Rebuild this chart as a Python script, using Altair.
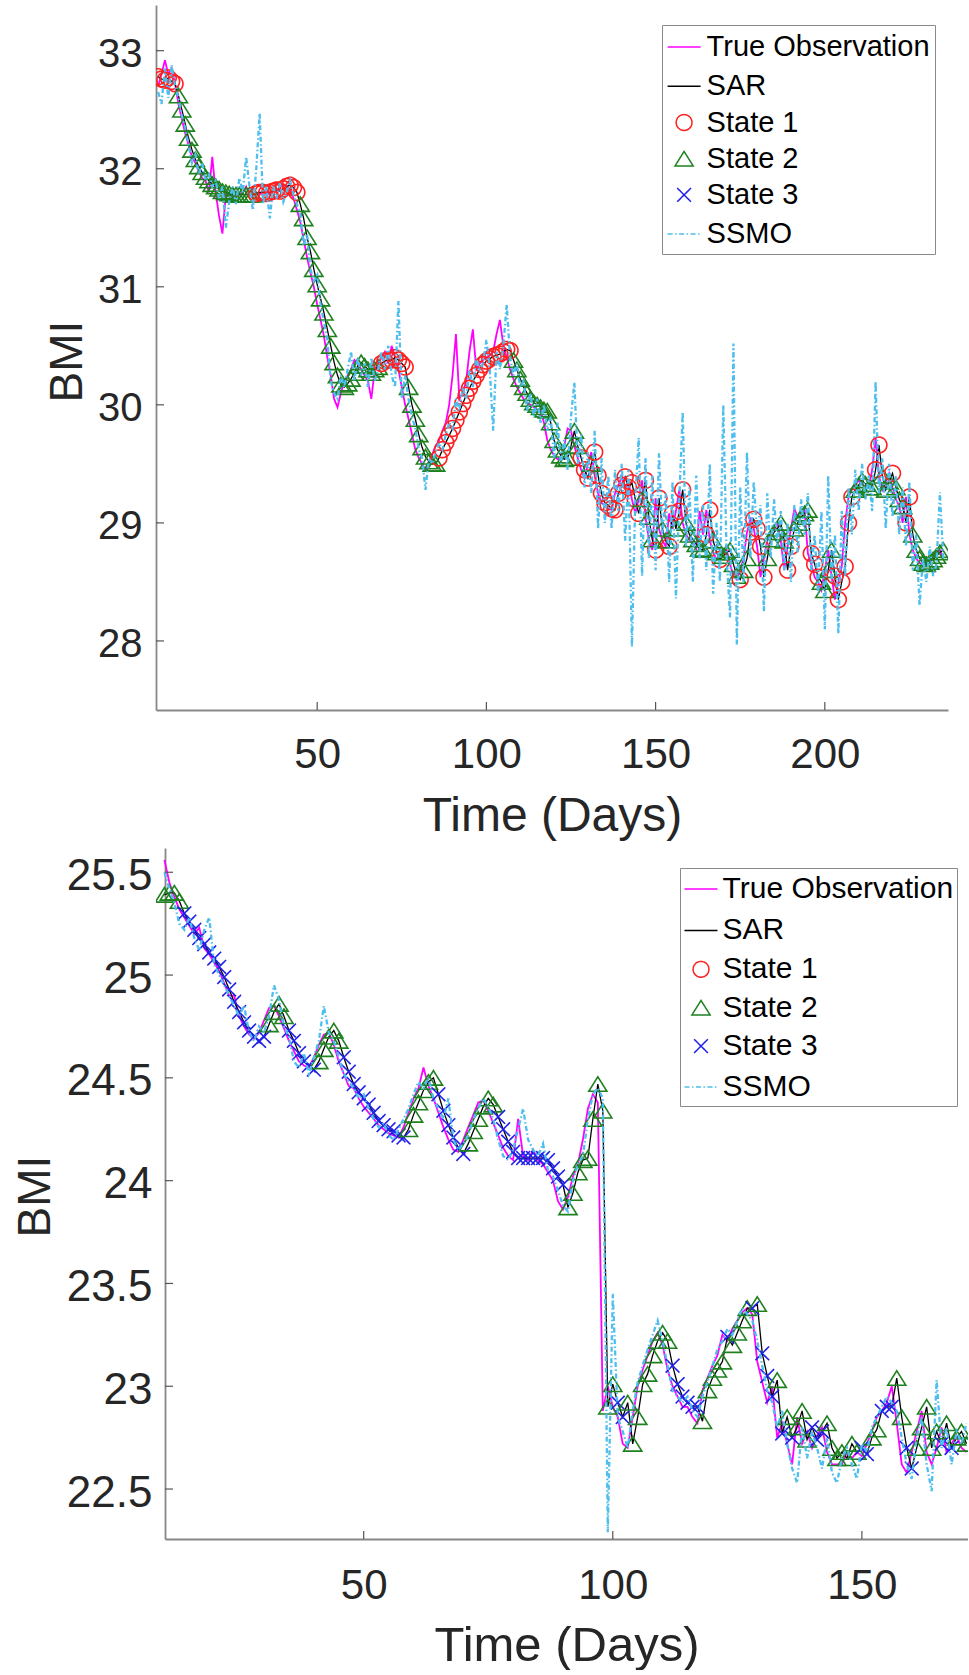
import altair as alt
import pandas as pd

# ---------------- data: top panel (days 3..235) ----------------
top_start_day = 3
top_sar = [
    32.78, 32.76, 32.75, 32.77, 32.74, 32.72,
    32.62, 32.50, 32.38, 32.26, 32.16, 32.08, 32.02, 31.97, 31.93, 31.90,
    31.87, 31.85, 31.83, 31.81, 31.80, 31.79, 31.78, 31.78, 31.78, 31.78,
    31.78, 31.78, 31.78,
    31.79, 31.80, 31.80, 31.79, 31.80, 31.81, 31.82, 31.81, 31.83, 31.85,
    31.86, 31.84, 31.80,
    31.70, 31.58, 31.42, 31.30, 31.15, 31.02, 30.90, 30.78, 30.64, 30.50,
    30.36, 30.25, 30.17, 30.15,
    30.18, 30.22, 30.27, 30.33, 30.36, 30.33, 30.30, 30.27, 30.30, 30.32,
    30.35, 30.37, 30.38, 30.38, 30.40, 30.38, 30.35, 30.32,
    30.15, 30.00, 29.88, 29.75, 29.64, 29.56, 29.52, 29.50, 29.50,
    29.55, 29.62, 29.68, 29.74, 29.80, 29.87, 29.94, 30.01, 30.08, 30.14,
    30.20, 30.25, 30.30, 30.34, 30.37, 30.39, 30.41, 30.42, 30.43, 30.45,
    30.47, 30.46,
    30.38, 30.30, 30.22, 30.15, 30.10, 30.05, 30.02, 30.00, 29.98, 29.96,
    29.95, 29.85, 29.70, 29.62, 29.57, 29.54, 29.55, 29.65, 29.78, 29.65,
    29.55, 29.45, 29.38, 29.50, 29.60, 29.40, 29.25, 29.17, 29.15, 29.12,
    29.11, 29.25, 29.32, 29.39, 29.30, 29.34, 29.20, 29.08, 29.20, 29.36,
    29.05, 28.86, 28.77, 29.21, 28.95, 28.85, 28.80, 29.08, 28.95, 29.10,
    29.28, 29.00, 28.90, 28.86, 28.82, 28.78, 28.77, 28.90, 29.11, 28.85,
    28.75, 28.69, 28.72, 28.75, 28.77, 28.65, 28.55, 28.52, 28.60, 28.70,
    28.92, 29.03, 28.95, 28.80, 28.54, 28.70, 28.86, 28.92, 28.95, 29.00,
    28.85, 28.60, 28.80, 28.95, 29.00, 29.05, 29.08, 29.11, 28.74, 28.65,
    28.54, 28.50, 28.43, 28.60, 28.77, 28.55, 28.35, 28.50, 28.63, 29.00,
    29.22, 29.28, 29.32, 29.36, 29.33, 29.30, 29.30, 29.45, 29.66, 29.40,
    29.28, 29.35, 29.42, 29.30, 29.20, 29.14, 29.00, 29.22, 28.90, 28.77,
    28.70, 28.66, 28.65, 28.67, 28.69, 28.72, 28.75, 28.77,
]
top_obs = [
    32.70, 32.80, 32.92, 32.80, 32.85, 32.72, 32.55, 32.42, 32.30, 32.20,
    32.10, 32.05, 31.98, 31.92, 31.90, 31.80, 32.10, 31.80, 31.60, 31.45,
    31.78, 31.80, 31.75, 31.80, 31.78, 31.80, 31.85, 31.78, 31.75, 31.80,
    31.78, 31.82, 31.80, 31.78, 31.83, 31.80, 31.85, 31.86, 31.85, 31.82,
    31.75, 31.65, 31.55, 31.40, 31.25, 31.12, 31.00, 30.85, 30.72, 30.58,
    30.40, 30.25, 30.05, 29.98, 30.10, 30.20, 30.25, 30.30, 30.38, 30.35,
    30.30, 30.25, 30.20, 30.05, 30.30, 30.35, 30.40, 30.45, 30.35, 30.50,
    30.40, 30.30, 30.15, 30.00, 29.88, 29.75, 29.62, 29.55, 29.50, 29.45,
    29.52, 29.58, 29.65, 29.70, 29.78, 29.85, 30.00, 30.25, 30.60, 30.05,
    30.10, 30.20, 30.45, 30.64, 30.30, 30.35, 30.38, 30.40, 30.42, 30.45,
    30.60, 30.72, 30.50, 30.40, 30.30, 30.22, 30.15, 30.10, 30.05, 30.02,
    30.00, 29.98, 29.96, 29.95, 29.85, 29.70, 29.62, 29.57, 29.54, 29.55,
    29.65, 29.80,
    29.78, 29.65, 29.55, 29.45, 29.38, 29.50, 29.60, 29.40, 29.25, 29.17,
    29.15, 29.12, 29.11, 29.25, 29.32, 29.39, 29.30, 29.34, 29.20, 29.08,
    29.20, 29.36, 29.05, 28.86, 28.77, 29.21, 28.95, 28.85, 28.80, 29.08,
    28.95, 29.10, 29.28, 29.00, 28.90, 28.86, 28.82, 28.78, 29.10, 28.90,
    29.11, 28.85, 28.75, 28.69, 28.72, 28.75, 28.77, 28.65, 28.55, 28.52,
    28.60, 28.70, 28.92, 29.03, 28.95, 28.80, 28.54, 28.70, 28.86, 28.92,
    28.95, 29.00, 28.85, 28.60, 28.80, 28.95, 29.12, 29.05, 29.08, 29.11,
    28.74, 28.65, 28.54, 28.50, 28.43, 28.60, 28.77, 28.55, 28.35, 28.50,
    28.63, 29.00, 29.22, 29.28, 29.32, 29.36, 29.33, 29.30, 29.30, 29.45,
    29.72, 29.40, 29.28, 29.35, 29.42, 29.30, 29.20, 29.14, 29.00, 29.22,
    28.90, 28.77, 28.70, 28.66, 28.65, 28.67, 28.69, 28.72, 28.75, 28.77,
    28.70,
]
top_ssmo = [
    32.65, 32.55, 32.85, 32.60, 32.88, 32.70, 32.60, 32.45, 32.35, 32.20,
    32.05, 32.12, 31.95, 32.05, 31.90, 31.95, 31.85, 31.90, 31.75, 31.85,
    31.50, 31.72, 31.85, 31.70, 31.92, 31.80, 32.10, 31.85, 31.65, 32.00,
    32.47, 31.70, 31.85, 31.58, 31.85, 31.75, 31.88, 31.72, 31.80, 31.90,
    31.78, 31.70, 31.62, 31.35, 31.45, 31.15, 31.05, 31.10, 30.85, 30.70,
    30.55, 30.20, 30.10, 30.05, 30.25, 30.15, 30.30, 30.45, 30.20, 30.40,
    30.25, 30.35, 30.15, 30.40, 30.20, 30.30, 30.45, 30.30, 30.50, 30.25,
    30.15, 30.88, 30.05, 30.25, 30.05, 29.90, 29.80, 29.62, 29.55, 29.28,
    29.55, 29.50, 29.60, 29.68, 29.62, 29.75, 29.85, 29.80, 30.05, 29.95,
    30.15, 30.05, 30.30, 30.15, 30.40, 30.30, 30.35, 30.55, 30.30, 29.78,
    30.45, 30.30, 30.50, 30.85, 30.40, 30.25, 30.35, 30.15, 30.20, 29.95,
    30.10, 29.90, 30.05, 29.85, 30.00, 29.78, 29.90, 29.55, 29.85, 29.50,
    29.70, 29.45, 29.90, 30.19, 29.50, 29.75, 29.30, 29.60, 29.25, 29.78,
    28.95, 29.55, 29.00, 29.40, 28.95, 29.45, 29.10, 29.50, 28.85, 29.45,
    27.95, 29.20, 29.72, 28.55, 29.55, 28.70, 29.40, 28.60, 29.59, 28.90,
    29.25, 28.50, 29.35, 28.36, 29.20, 29.94, 28.80, 29.30, 28.50, 29.40,
    28.70, 29.15, 28.60, 29.50, 28.40, 29.00, 28.50, 30.00, 28.70, 28.20,
    30.52, 27.97, 29.30, 28.50, 29.60, 28.70, 29.35, 28.90, 29.15, 28.25,
    29.25, 28.70, 29.20, 28.80, 29.10, 28.60, 29.00, 28.50, 29.15, 28.75,
    29.20, 28.90, 29.25, 28.60, 28.90, 28.40, 29.10, 28.10, 29.40, 28.50,
    28.90, 28.06, 29.10, 28.55, 29.30, 28.90, 29.45, 29.10, 29.50, 29.20,
    29.40, 29.10, 30.20, 29.25, 29.55, 28.95, 29.50, 29.05, 29.40, 28.90,
    29.30, 28.80, 29.35, 28.60, 28.90, 28.30, 28.70, 28.50, 28.80, 28.55,
    28.65, 29.26, 28.70,
]
top_state_runs = [(1, 6), (2, 23), (1, 13), (2, 24), (1, 8), (2, 9), (1, 22), (2, 20)]
top_state_tail = ("1112111111" "1111111121" "2211221121" "1222222112" "2122222122"
                  "1111122222" "2112222211" "1222211111" "1222222112" "2212221122" "22222222")

# ---------------- data: bottom panel (days 10..171) ----------------
bot_start_day = 10
bot_sar = [
    25.39, 25.40, 25.40, 25.36, 25.30, 25.26, 25.22, 25.18, 25.15, 25.11,
    25.08, 25.04, 24.99, 24.93, 24.87, 24.82, 24.77, 24.73, 24.70, 24.68,
    24.70, 24.76, 24.82, 24.86, 24.80, 24.73, 24.68, 24.62, 24.58, 24.56,
    24.54, 24.58, 24.64, 24.70, 24.73, 24.68, 24.60, 24.53, 24.47, 24.43,
    24.40, 24.37, 24.33, 24.29, 24.27, 24.25, 24.24, 24.22, 24.21, 24.25,
    24.32, 24.38, 24.44, 24.48, 24.50, 24.42, 24.34, 24.27, 24.21, 24.16,
    24.13, 24.18, 24.24, 24.30, 24.36, 24.40, 24.37, 24.31, 24.25, 24.19,
    24.14, 24.11, 24.11, 24.11, 24.11, 24.11, 24.11, 24.10, 24.06, 24.02,
    23.98, 23.87, 23.94, 24.04, 24.10, 24.11, 24.30, 24.47, 24.34, 22.90,
    23.01, 22.92, 22.85, 22.92, 22.72, 22.85, 23.01, 23.06, 23.15, 23.22,
    23.26, 23.22, 23.10, 23.01, 22.95, 22.92, 22.90, 22.90, 22.83, 22.98,
    23.04, 23.08, 23.12, 23.24, 23.20, 23.26, 23.32, 23.38, 23.38, 23.40,
    23.16, 23.05, 22.95, 23.03, 22.77, 22.85, 22.75, 22.80, 22.88, 22.74,
    22.80, 22.74, 22.78, 22.82, 22.70, 22.65, 22.68, 22.65, 22.72, 22.68,
    22.70, 22.67, 22.75, 22.79, 22.88, 22.90, 22.90, 23.04, 22.85, 22.70,
    22.60, 22.70, 22.80, 22.90, 22.70, 22.78, 22.72, 22.82, 22.70, 22.75,
    22.78, 22.72,
]
bot_obs = [
    25.56, 25.45, 25.38, 25.32, 25.28, 25.24, 25.20, 25.23, 25.13, 25.10,
    25.06, 25.02, 24.96, 24.90, 24.90, 24.80, 24.75, 24.71, 24.69, 24.72,
    24.78, 24.84, 24.85, 24.80, 24.74, 24.68, 24.63, 24.58, 24.56, 24.55,
    24.60, 24.66, 24.71, 24.72, 24.66, 24.58, 24.52, 24.46, 24.45, 24.40,
    24.36, 24.33, 24.30, 24.27, 24.25, 24.23, 24.22, 24.21, 24.26, 24.33,
    24.40, 24.45, 24.55, 24.46, 24.40, 24.33, 24.26, 24.20, 24.15, 24.14,
    24.20, 24.26, 24.32, 24.38, 24.39, 24.34, 24.28, 24.22, 24.16, 24.12,
    24.10, 24.30, 24.12, 24.10, 24.15, 24.10, 24.08, 24.04, 24.00, 23.90,
    23.86, 23.92, 24.02, 24.08, 24.20, 24.35, 24.42, 24.38, 22.88, 23.00,
    22.90, 22.85, 22.72, 22.70, 22.85, 23.00, 23.08, 23.15, 23.22, 23.26,
    23.20, 23.08, 23.00, 22.95, 22.90, 22.90, 22.85, 22.82, 22.98, 23.04,
    23.10, 23.15, 23.25, 23.22, 23.28, 23.32, 23.36, 23.38, 23.35, 23.12,
    23.02, 22.92, 23.00, 22.75, 22.82, 22.72, 22.62, 22.85, 22.72, 22.78,
    22.70, 22.76, 22.80, 22.68, 22.62, 22.62, 22.62, 22.68, 22.65, 22.68,
    22.66, 22.72, 22.78, 22.85, 22.88, 22.92, 23.00, 22.82, 22.62, 22.58,
    22.68, 22.78, 22.88, 22.68, 22.62, 22.70, 22.80, 22.68, 22.72, 22.76,
    22.70, 22.68,
]
bot_ssmo = [
    25.50, 25.42, 25.35, 25.25, 25.22, 25.28, 25.18, 25.12, 25.22, 25.28,
    25.05, 25.00, 24.95, 24.90, 24.85, 24.80, 24.85, 24.72, 24.68, 24.75,
    24.72, 24.80, 24.95, 24.88, 24.75, 24.70, 24.58, 24.55, 24.62, 24.52,
    24.60, 24.68, 24.85, 24.72, 24.68, 24.60, 24.52, 24.48, 24.45, 24.40,
    24.42, 24.35, 24.30, 24.26, 24.28, 24.22, 24.20, 24.25, 24.30, 24.35,
    24.42, 24.48, 24.45, 24.50, 24.40, 24.35, 24.30, 24.40, 24.20, 24.15,
    24.18, 24.22, 24.30, 24.35, 24.40, 24.36, 24.30, 24.20, 24.12, 24.10,
    24.15, 24.25, 24.35, 24.20, 24.15, 24.12, 24.18, 24.05, 24.02, 23.95,
    23.88, 23.85, 24.00, 24.08, 24.12, 24.30, 24.42, 24.45, 24.40, 22.29,
    23.45, 22.85, 22.78, 22.70, 22.88, 23.02, 23.10, 23.18, 23.25, 23.32,
    23.22, 23.10, 22.98, 22.95, 22.92, 22.95, 22.88, 22.85, 22.95, 23.02,
    23.10, 23.18, 23.22, 23.28, 23.25, 23.32, 23.38, 23.35, 23.32, 23.22,
    23.10, 22.98, 22.92, 22.80, 22.88, 22.72, 22.60, 22.53, 22.80, 22.65,
    22.78, 22.70, 22.60, 22.75, 22.58, 22.53, 22.65, 22.70, 22.62, 22.55,
    22.72, 22.68, 22.80, 22.85, 22.90, 22.95, 22.92, 22.88, 22.75, 22.62,
    22.55, 22.75, 22.85, 22.62, 22.49, 23.03, 22.70, 22.80, 22.62, 22.78,
    22.72, 22.82,
]
bot_state_runs = [(2, 4), (3, 17), (2, 4), (3, 6), (2, 5), (3, 13), (2, 6), (3, 6),
                  (2, 6), (3, 14), (2, 10)]
bot_state_tail = ("33" "222222222" "333333" "22222" "3" "2222" "3" "2" "333" "2" "3" "2" "3"
                  "222" "333" "2222222" "33" "22" "333" "22" "33" "22222" "3" "2" "3" "222")

# ---------------- axes ----------------
top_x_ticks = [50, 100, 150, 200]
top_y_ticks = [28, 29, 30, 31, 32, 33]
bot_x_ticks = [50, 100, 150]
bot_y_ticks = [22.5, 23, 23.5, 24, 24.5, 25, 25.5]

SERIES = ["True Observation", "SAR", "State 1", "State 2", "State 3", "SSMO"]
MAGENTA, BLACK, RED, GREEN, BLUE, CYAN = "#FF00FF", "#000000", "#FF2020", "#1F801F", "#2020E8", "#4DBEEE"
COLORS = [MAGENTA, BLACK, RED, GREEN, BLUE, CYAN]
TRI = "M0,-0.8L1,0.8L-1,0.8Z"
XSH = "M-1,-1L1,1M-1,1L1,-1"
SHAPES = ["stroke", "stroke", "circle", TRI, XSH, "stroke"]
SIZES = [1089, 1089, 250, 330, 190, 1089]
SSMO_DASH = [5, 2.5, 1.5, 2.5]
DASHES = [[1, 0], [1, 0], [1, 0], [1, 0], [1, 0], SSMO_DASH]

FONT = "Liberation Sans"
TXT = "#262626"
AXC = "#878787"


def expand_states(runs, tail):
    out = []
    for s, n in runs:
        out += [s] * n
    out += [int(c) for c in tail]
    return out


def build_df(start, sar, obs, ssmo, states):
    n = min(len(sar), len(obs), len(ssmo), len(states))
    return pd.DataFrame({
        "day": list(range(start, start + n)),
        "sar": sar[:n], "obs": obs[:n], "ssmo": ssmo[:n],
        "state": ["State %d" % s for s in states[:n]],
    })


def panel(df, xdom, ydom, xticks, yticks, W, H, x0, p):
    xs = alt.Scale(domain=xdom, range=[x0, W], nice=False, zero=False)
    ys = alt.Scale(domain=ydom, nice=False, zero=False)
    ax_x = alt.Axis(values=xticks, format="d", ticks=False, grid=False,
                    domainColor=AXC, domainWidth=1.8,
                    labelFont=FONT, labelFontSize=p["xls"], labelColor=TXT,
                    labelPadding=p["xlp"], labelFlush=False, labelOverlap=False,
                    title="Time (Days)", titleFont=FONT, titleFontSize=p["xts"],
                    titleFontWeight="normal", titleColor=TXT,
                    titleBaseline="alphabetic", titleY=p["xty"])
    ax_y = alt.Axis(values=yticks, format="~g", ticks=False, grid=False,
                    offset=-x0, domainColor=AXC, domainWidth=1.8,
                    labelFont=FONT, labelFontSize=p["yls"], labelColor=TXT,
                    labelPadding=p["ylp"], labelOffset=4, labelFlush=False,
                    labelOverlap=False,
                    title="BMI", titleFont=FONT, titleFontSize=p["yts"],
                    titleFontWeight="normal", titleColor=TXT, titleAngle=270,
                    titleBaseline="alphabetic", titleAlign="center",
                    titleX=p["ytx"], titleY=p["yty"])
    leg = alt.Legend(title=None, orient="none", legendX=p["lx"], legendY=p["ly"],
                     labelFont=FONT, labelFontSize=p["lfs"], labelColor="#000000",
                     labelLimit=500, labelOffset=p["lof"], padding=p["lpad"],
                     rowPadding=p["lrp"],
                     strokeColor="#8a8a8a", fillColor="white",
                     symbolStrokeWidth=1.5, symbolFillColor="transparent")
    X = alt.X("day:Q", scale=xs, axis=ax_x)
    base = alt.Chart(df)
    obs_line = base.mark_line(color=MAGENTA, strokeWidth=1.8, clip=True).encode(
        x=X, y=alt.Y("obs:Q", scale=ys, axis=ax_y))
    sar_line = base.mark_line(color=BLACK, strokeWidth=1.3, clip=True).encode(
        x=X, y=alt.Y("sar:Q", scale=ys, axis=ax_y))
    pts = base.mark_point(filled=False, strokeWidth=1.6, opacity=1, clip=True).encode(
        x=X, y=alt.Y("sar:Q", scale=ys, axis=ax_y),
        color=alt.Color("state:N", scale=alt.Scale(domain=SERIES, range=COLORS), legend=leg),
        shape=alt.Shape("state:N", scale=alt.Scale(domain=SERIES, range=SHAPES), legend=leg),
        size=alt.Size("state:N", scale=alt.Scale(type="ordinal", domain=SERIES, range=SIZES), legend=leg),
        strokeDash=alt.StrokeDash("state:N", scale=alt.Scale(domain=SERIES, range=DASHES), legend=leg),
    )
    ssmo_line = base.mark_line(color=CYAN, strokeWidth=2.3, strokeDash=SSMO_DASH, clip=True).encode(
        x=X, y=alt.Y("ssmo:Q", scale=ys, axis=ax_y))
    xt = alt.Chart(pd.DataFrame({"v": xticks})).mark_rule(color="#555555", strokeWidth=1.2).encode(
        x=alt.X("v:Q", scale=xs, axis=ax_x), y=alt.value(H), y2=alt.value(H - 8))
    yt = alt.Chart(pd.DataFrame({"v": yticks})).mark_rule(color="#555555", strokeWidth=1.2).encode(
        y=alt.Y("v:Q", scale=ys, axis=ax_y), x=alt.value(x0), x2=alt.value(x0 + 8))
    return alt.layer(obs_line, sar_line, pts, ssmo_line, xt, yt).properties(width=W, height=H)


top_df = build_df(top_start_day, top_sar, top_obs, top_ssmo,
                  expand_states(top_state_runs, top_state_tail))
bot_df = build_df(bot_start_day, bot_sar, bot_obs, bot_ssmo,
                  expand_states(bot_state_runs, bot_state_tail))

top = panel(top_df, [2.37, 236.4], [27.415, 33.387], top_x_ticks, top_y_ticks,
            792, 705, 0,
            dict(xls=42, xlp=24, xts=48, xty=120, yls=40, ylp=14, yts=46, ytx=-75, yty=356,
                 lx=506, ly=20, lfs=29, lrp=6.2, lpad=4.6, lof=5))
bottom = panel(bot_df, [10.12, 171.3], [22.257, 25.618], bot_x_ticks, bot_y_ticks,
               812, 691, 9,
               dict(xls=42, xlp=26, xts=49, xty=121, yls=44, ylp=13, yts=46, ytx=-116, yty=348,
                    lx=524, ly=20, lfs=30, lrp=8.4, lpad=3.5, lof=4))

chart = alt.vconcat(top, bottom, spacing=138, bounds="flush").resolve_scale(
    color="independent", shape="independent", size="independent", strokeDash="independent"
).resolve_legend(
    color="independent", shape="independent", size="independent", strokeDash="independent"
).properties(
    padding={"left": 12, "top": 5, "right": 0, "bottom": 0},
    background="white",
).configure_view(stroke=None)

chart.save("out.html", embed_options={"renderer": "svg", "actions": False})
